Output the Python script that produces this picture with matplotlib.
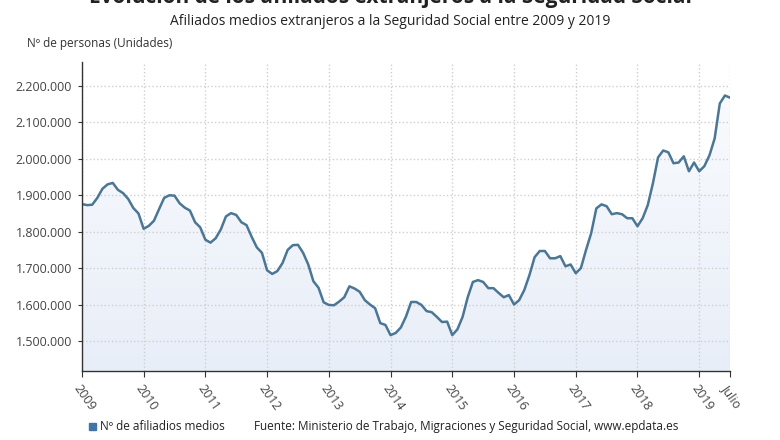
import matplotlib.pyplot as plt
import matplotlib.ticker as mticker
from matplotlib.colors import LinearSegmentedColormap
import numpy as np

plt.rcParams['font.family'] = ['Open Sans', 'DejaVu Sans']

# monthly average of foreign affiliates, Jan 2009 .. Jul 2019 (millions)
y2009 = [1.876, 1.873, 1.874, 1.893, 1.918, 1.930, 1.934, 1.915, 1.906, 1.890, 1.865, 1.850]
y2010 = [1.808, 1.816, 1.830, 1.862, 1.893, 1.900, 1.899, 1.878, 1.866, 1.858, 1.826, 1.812]
y2011 = [1.778, 1.770, 1.782, 1.806, 1.842, 1.851, 1.846, 1.826, 1.818, 1.786, 1.757, 1.742]
y2012 = [1.694, 1.684, 1.692, 1.714, 1.750, 1.763, 1.764, 1.742, 1.710, 1.664, 1.646, 1.606]
y2013 = [1.599, 1.598, 1.608, 1.620, 1.650, 1.644, 1.635, 1.612, 1.600, 1.590, 1.549, 1.544]
y2014 = [1.516, 1.522, 1.537, 1.567, 1.607, 1.607, 1.599, 1.582, 1.579, 1.566, 1.552, 1.553]
y2015 = [1.516, 1.532, 1.566, 1.620, 1.662, 1.667, 1.662, 1.645, 1.645, 1.632, 1.620, 1.626]
y2016 = [1.600, 1.612, 1.640, 1.681, 1.730, 1.747, 1.747, 1.727, 1.727, 1.733, 1.705, 1.710]
y2017 = [1.686, 1.700, 1.750, 1.796, 1.864, 1.875, 1.870, 1.848, 1.851, 1.848, 1.837, 1.837]
y2018 = [1.815, 1.837, 1.873, 1.933, 2.004, 2.023, 2.018, 1.988, 1.990, 2.007, 1.966, 1.990]
y2019 = [1.966, 1.980, 2.010, 2.056, 2.152, 2.174, 2.168]

tick_labels = ['2009', '2010', '2011', '2012', '2013', '2014', '2015',
               '2016', '2017', '2018', '2019', 'Julio']

values = np.array(y2009 + y2010 + y2011 + y2012 + y2013 + y2014 + y2015
                  + y2016 + y2017 + y2018 + y2019) * 1e6
months = np.arange(len(values))

fig = plt.figure(figsize=(7.8, 4.4), dpi=100)
ax = fig.add_axes([0.105, 0.157, 0.831, 0.702])

ymin, ymax = 1.4177e6, 2.2659e6
xmax = len(values) - 1

# area under the line with a vertical white -> pale blue gradient
area = ax.fill_between(months, values, ymin, color='none', zorder=1)
grad = LinearSegmentedColormap.from_list('area', ['#e8eef8', '#fbfcfe'])
img = ax.imshow(np.linspace(0, 1, 256).reshape(-1, 1), cmap=grad, aspect='auto',
                origin='lower', extent=[0, xmax, ymin, ymax], zorder=1)
img.set_clip_path(area.get_paths()[0], transform=ax.transData)

ax.plot(months, values, color='#4b7695', lw=1.8, zorder=3)

ax.set_xlim(0, xmax)
ax.set_ylim(ymin, ymax)

xticks = list(range(0, 121, 12)) + [xmax]
ax.set_xticks(xticks)
ax.set_xticklabels(tick_labels, rotation=-55, ha='left', va='top',
                   rotation_mode='anchor', fontsize=9, color='#444444')
ax.set_yticks(np.arange(1.5e6, 2.21e6, 1e5))
ax.yaxis.set_major_formatter(mticker.FuncFormatter(
    lambda v, p: f'{int(round(v)):,}'.replace(',', '.')))
ax.tick_params(axis='y', labelsize=9, labelcolor='#444444', length=3,
               color='#333333', pad=4)
ax.tick_params(axis='x', length=4, color='#333333', pad=4)

ax.grid(True, color='#cfcfcf', linestyle=':', linewidth=1, zorder=2)
for s in ['top', 'right']:
    ax.spines[s].set_visible(False)
for s in ['left', 'bottom']:
    ax.spines[s].set_color('#333333')
    ax.spines[s].set_linewidth(1)
    ax.spines[s].set_zorder(4)

# titles
fig.text(0.5, 1.005, 'Evolución de los afiliados extranjeros a la Seguridad Social',
         ha='center', va='center', fontsize=15, fontweight='bold', color='#222222')
fig.text(0.5, 0.952, 'Afiliados medios extranjeros a la Seguridad Social entre 2009 y 2019',
         ha='center', va='center', fontsize=10, color='#222222')
fig.text(0.035, 0.900, 'Nº de personas (Unidades)', ha='left', va='center',
         fontsize=8.5, color='#333333')

# legend and source
fig.patches.append(plt.Rectangle((0.114, 0.022), 0.009, 0.016,
                                 transform=fig.transFigure, color='#3f74a8'))
fig.text(0.128, 0.030, 'Nº de afiliadios medios', ha='left', va='center',
         fontsize=8.5, color='#222222')
fig.text(0.325, 0.030,
         'Fuente: Ministerio de Trabajo, Migraciones y Seguridad Social, www.epdata.es',
         ha='left', va='center', fontsize=8.5, color='#222222')

fig.savefig('out.png', dpi=100)
